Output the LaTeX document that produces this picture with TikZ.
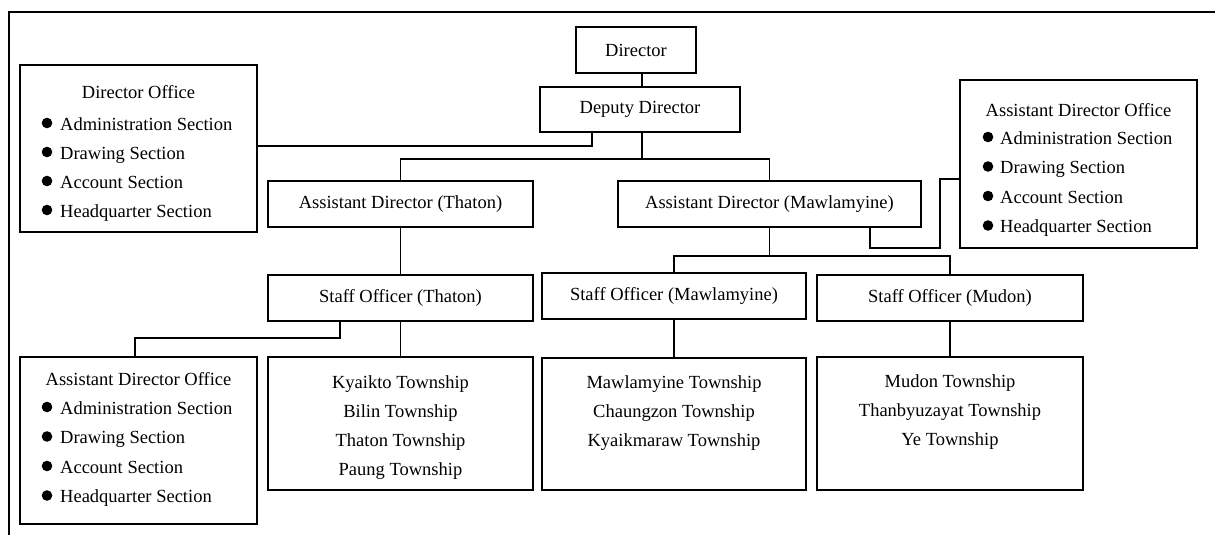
\documentclass[tikz,border=0pt]{standalone}
\usepackage{fontspec}
\setmainfont{Liberation Serif}
\begin{document}
\begin{tikzpicture}[x=1pt,y=-1pt,
  font=\fontsize{18.5}{29}\selectfont,
  box/.style={draw, line width=1.4pt, inner sep=0pt, outer sep=0pt, align=center},
  conn/.style={line width=1.4pt},
  item/.style={anchor=base west, inner sep=0pt},
  ttl/.style={anchor=base, inner sep=0pt},
  dot/.style={fill=black}]
\useasboundingbox (0,0) rectangle (1215,535);
% frame
\draw[conn] (9,535) -- (9,12) -- (1215,12);
% boxes
\node[box, minimum width=120, minimum height=46] (director) at (636,50) {Director};
\node[box, minimum width=200, minimum height=45] (deputy) at (640,109.5) {Deputy Director};
\node[box, minimum width=237, minimum height=167] (dirOff) at (138.5,148.5) {};
\node[box, minimum width=265, minimum height=46] (adT) at (400.5,204) {Assistant Director (Thaton)};
\node[box, minimum width=303, minimum height=46] (adM) at (769.5,204) {Assistant Director (Mawlamyine)};
\node[box, minimum width=237, minimum height=168] (adO) at (1078.5,164) {};
\node[box, minimum width=265, minimum height=46] (soT) at (400.5,298) {Staff Officer (Thaton)};
\node[box, minimum width=264, minimum height=46] (soM) at (674,296) {Staff Officer (Mawlamyine)};
\node[box, minimum width=266, minimum height=46] (soD) at (950,298) {Staff Officer (Mudon)};
\node[box, minimum width=265, minimum height=133] (twT) at (400.5,423.5) {};
\node[box, minimum width=264, minimum height=132] (twM) at (674,424) {};
\node[box, minimum width=266, minimum height=133] (twD) at (950,423.5) {};
\node[box, minimum width=237, minimum height=167] (adO2) at (138.5,440.5) {};
% box texts
\node[ttl] (dirOffT) at (138.5,99) {Director Office};
\foreach \t [count=\i] in {Administration Section, Drawing Section, Account Section, Headquarter Section}{
  \node[item] (dirOffL\i) at (60,101+29*\i) {\t};
  \fill[dot] ([shift={(-13,-7)}]dirOffL\i.base west) circle (5.3);}
\node[ttl] (adOT) at (1078.5,116) {Assistant Director Office};
\foreach \t [count=\i] in {Administration Section, Drawing Section, Account Section, Headquarter Section}{
  \node[item] (adOL\i) at (1000,114.5+29.5*\i) {\t};
  \fill[dot] ([shift={(-12,-7)}]adOL\i.base west) circle (5.3);}
\node[ttl] (adO2T) at (138.5,385) {Assistant Director Office};
\foreach \t [count=\i] in {Administration Section, Drawing Section, Account Section, Headquarter Section}{
  \node[item] (adO2L\i) at (60,384.5+29.5*\i) {\t};
  \fill[dot] ([shift={(-13,-7)}]adO2L\i.base west) circle (5.3);}
\foreach \t [count=\i] in {Kyaikto Township, Bilin Township, Thaton Township, Paung Township}
  \node[ttl] (twTL\i) at (400.5,359+29*\i) {\t};
\foreach \t [count=\i] in {Mawlamyine Township, Chaungzon Township, Kyaikmaraw Township}
  \node[ttl] (twML\i) at (674,359+29*\i) {\t};
\foreach \t [count=\i] in {Mudon Township, Thanbyuzayat Township, Ye Township}
  \node[ttl] (twDL\i) at (950,358+29*\i) {\t};
% connectors
\coordinate (c0) at (642,80);
\draw[conn] (c0 |- director.south) -- (c0 |- deputy.north);
\coordinate (j1) at (592,146);
\draw[conn] (j1 -| dirOff.east) -- (j1) -- (j1 |- deputy.south);
\coordinate (bus1) at (642,159);
\draw[conn] (bus1 |- deputy.south) -- (bus1);
\draw[conn] (adT.north) |- (adM.north |- bus1) -- (adM.north);
\coordinate (k1) at (870,248);
\coordinate (k2) at (940,179);
\draw[conn] (k1 |- adM.south) -- (k1) -| (k2) -- (k2 -| adO.west);
\draw[conn] (adT.south) -- (soT.north);
\coordinate (bus2) at (769.5,256);
\draw[conn] (adM.south) -- (adM.south |- bus2);
\draw[conn] (soM.north) |- (soD.north |- bus2) -- (soD.north);
\draw[conn] (soT.south) -- (twT.north);
\draw[conn] (soM.south) -- (twM.north);
\draw[conn] (soD.south) -- (twD.north);
\coordinate (m1) at (340,338);
\coordinate (m2) at (135,338);
\draw[conn] (m1 |- soT.south) -- (m1) -- (m2) -- (m2 |- adO2.north);
\end{tikzpicture}
\end{document}
